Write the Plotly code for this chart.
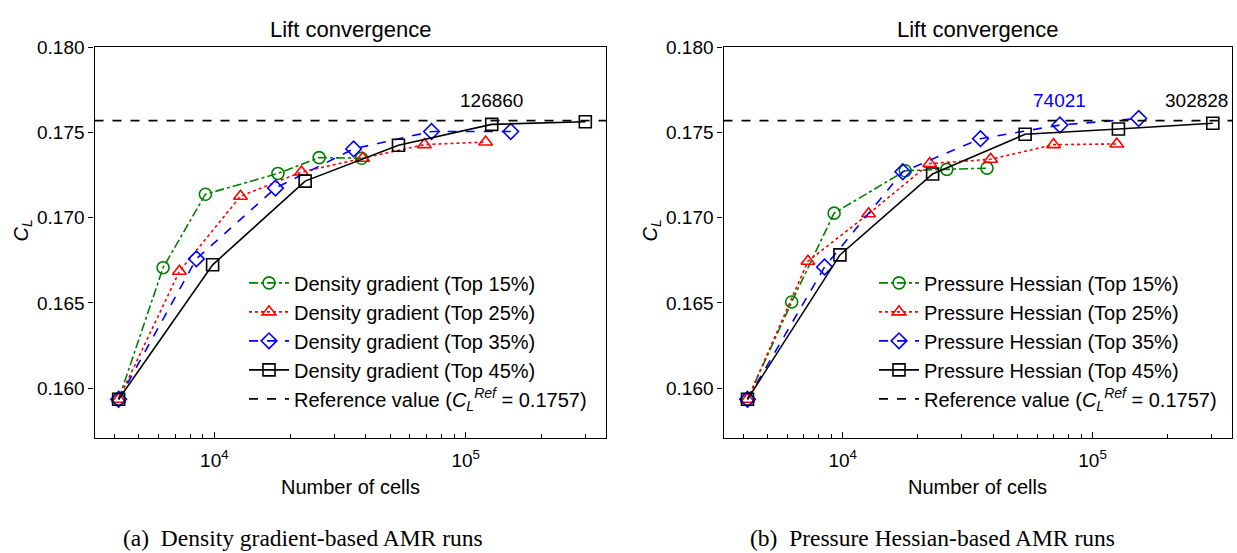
import plotly.graph_objects as go
import math

# ---------------- data ----------------
# (a) Density gradient-based AMR runs
DG15_CELLS = [4160, 6250, 9210, 17900, 26100, 38500]
DG15_CL = [0.15935, 0.16707, 0.17138, 0.17260, 0.17353, 0.17349]
DG25_CELLS = [4160, 7260, 12700, 22200, 38900, 68500, 120000]
DG25_CL = [0.15935, 0.16686, 0.17126, 0.17268, 0.17349, 0.17429, 0.17444]
DG35_CELLS = [4160, 8480, 17500, 35800, 73100, 151000]
DG35_CL = [0.15935, 0.16759, 0.17174, 0.17404, 0.17506, 0.17506]
DG45_CELLS = [4160, 9840, 22960, 54000, 126860, 299000]
DG45_CL = [0.15935, 0.16724, 0.17215, 0.17425, 0.17548, 0.17563]

# (b) Pressure Hessian-based AMR runs
PH15_CELLS = [4160, 6250, 9240, 17800, 26100, 37800]
PH15_CL = [0.15935, 0.16506, 0.17027, 0.17276, 0.17284, 0.17291]
PH25_CELLS = [4160, 7260, 12700, 22300, 39100, 69800, 125000]
PH25_CL = [0.15935, 0.16745, 0.17023, 0.17318, 0.17343, 0.17429, 0.17433]
PH35_CELLS = [4160, 8460, 17400, 35600, 74021, 153000]
PH35_CL = [0.15935, 0.16711, 0.17270, 0.17464, 0.17544, 0.17582]
PH45_CELLS = [4160, 9750, 22900, 53700, 126900, 302828]
PH45_CL = [0.15935, 0.16782, 0.17257, 0.17490, 0.17521, 0.17554]

CL_REF = 0.1757
SERIES_LABELS = ["Top 15%", "Top 25%", "Top 35%", "Top 45%"]

# annotated cell counts: (text, cells, colour)
LEFT_LABELS = [("126860", 126860, "black")]
RIGHT_LABELS = [("74021", 74021, "#0000FF"), ("302828", 302828, "black")]
LABEL_CL = 0.17688

Y_TICKS = [0.160, 0.165, 0.170, 0.175, 0.180]
X_MAJOR = [1e4, 1e5]
X_MAJOR_TEXT = ["10<sup>4</sup>", "10<sup>5</sup>"]
X_MINOR = [4000, 5000, 6000, 7000, 8000, 9000,
           20000, 30000, 40000, 50000, 60000, 70000, 80000, 90000,
           200000, 300000]
X_RANGE_LOG = [3.523, 5.558]
Y_RANGE = [0.15707, 0.180]

# ---------------- layout helpers ----------------
W, H = 1237, 553
FONT = "Liberation Sans, Arial, sans-serif"
SERIF = "Liberation Serif, Times New Roman, serif"

STYLES = [
    dict(color="#008000", dash="dashdot", symbol="circle-open"),
    dict(color="#FF0000", dash="dot", symbol="triangle-up-open"),
    dict(color="#0000FF", dash="dash", symbol="diamond-open"),
    dict(color="#000000", dash="solid", symbol="square-open"),
]

fig = go.Figure()

panels = [
    dict(prefix="Density gradient", xa="x", ya="y", legend="legend",
         data=[(DG15_CELLS, DG15_CL), (DG25_CELLS, DG25_CL),
               (DG35_CELLS, DG35_CL), (DG45_CELLS, DG45_CL)],
         labels=LEFT_LABELS),
    dict(prefix="Pressure Hessian", xa="x2", ya="y2", legend="legend2",
         data=[(PH15_CELLS, PH15_CL), (PH25_CELLS, PH25_CL),
               (PH35_CELLS, PH35_CL), (PH45_CELLS, PH45_CL)],
         labels=RIGHT_LABELS),
]

for p in panels:
    for i, ((cx, cy), st, lab) in enumerate(zip(p["data"], STYLES, SERIES_LABELS)):
        fig.add_trace(go.Scatter(
            x=cx, y=cy, mode="lines+markers",
            name=f"{p['prefix']} ({lab})",
            xaxis=p["xa"], yaxis=p["ya"], legend=p["legend"],
            legendrank=i + 1,
            line=dict(color=st["color"], dash=st["dash"], width=1.6),
            marker=dict(symbol=st["symbol"], size=12, color=st["color"],
                        line=dict(width=1.6, color=st["color"])),
        ))
    # reference value line across the whole axis
    fig.add_shape(type="line", xref=f"{p['xa']} domain", yref=p["ya"],
                  x0=0, x1=1, y0=CL_REF, y1=CL_REF,
                  line=dict(color="black", dash="dash", width=1.6),
                  showlegend=True, legend=p["legend"], legendrank=5,
                  name=f"Reference value (<i>C</i><sub><i>L</i></sub><sup><i>Ref</i></sup> = {CL_REF})")
    for txt, cells, col in p["labels"]:
        xs = -16 if cells > 2.5e5 else 0
        fig.add_annotation(x=math.log10(cells), y=LABEL_CL, xref=p["xa"], yref=p["ya"],
                           text=txt, showarrow=False, xshift=xs,
                           xanchor="center", yanchor="middle",
                           font=dict(family=FONT, size=19, color=col))

axis_common = dict(showline=True, linecolor="black", linewidth=1.3, mirror=True,
                   showgrid=False, zeroline=False,
                   tickfont=dict(family=FONT, size=19, color="black"))

xaxis_style = dict(type="log", range=X_RANGE_LOG, tickmode="array",
                   tickvals=X_MAJOR, ticktext=X_MAJOR_TEXT,
                   ticks="inside", ticklen=6, tickwidth=1.2, tickcolor="black",
                   ticklabelstandoff=5,
                   minor=dict(tickvals=X_MINOR, ticks="inside", ticklen=3.5,
                              tickwidth=1, tickcolor="black", showgrid=False),
                   **axis_common)
yaxis_style = dict(range=Y_RANGE, tickvals=Y_TICKS, tickformat=".3f",
                   ticks="outside", ticklen=5, tickwidth=1.2, tickcolor="black",
                   **axis_common)

LEFT_DOM = [94.5 / W, 606 / W]
RIGHT_DOM = [723.5 / W, 1232 / W]
Y_DOM = [1 - 436 / H, 1 - 38 / H]

legend_common = dict(font=dict(family=FONT, size=20, color="black"),
                     bgcolor="rgba(0,0,0,0)", borderwidth=0,
                     xanchor="left", yanchor="top", itemwidth=40,
                     tracegroupgap=0)

fig.update_layout(
    width=W, height=H,
    margin=dict(l=0, r=0, t=0, b=0),
    paper_bgcolor="white", plot_bgcolor="white",
    xaxis=dict(domain=LEFT_DOM, anchor="y", **xaxis_style),
    yaxis=dict(domain=Y_DOM, anchor="x", **yaxis_style),
    xaxis2=dict(domain=RIGHT_DOM, anchor="y2", **xaxis_style),
    yaxis2=dict(domain=Y_DOM, anchor="x2", **yaxis_style),
    legend=dict(x=244 / W, y=1 - 258 / H, **legend_common),
    legend2=dict(x=874 / W, y=1 - 258 / H, **legend_common),
    showlegend=True,
)

# titles, axis titles and captions
for dom in [LEFT_DOM, RIGHT_DOM]:
    cx = (dom[0] + dom[1]) / 2
    fig.add_annotation(x=cx, y=1 - 20 / H, xref="paper", yref="paper",
                       text="Lift convergence", showarrow=False,
                       xanchor="center", yanchor="middle",
                       font=dict(family=FONT, size=22, color="black"))
    fig.add_annotation(x=cx, y=1 - 486 / H, xref="paper", yref="paper",
                       text="Number of cells", showarrow=False,
                       xanchor="center", yanchor="middle",
                       font=dict(family=FONT, size=20, color="black"))
    fig.add_annotation(x=dom[0] - 72 / W, y=1 - 225 / H, xref="paper", yref="paper",
                       text="<i>C</i><sub><i>L</i></sub>", showarrow=False, textangle=-90,
                       xanchor="center", yanchor="middle",
                       font=dict(family=FONT, size=20, color="black"))

fig.add_annotation(x=303 / W, y=1 - 538 / H, xref="paper", yref="paper",
                   text="(a)  Density gradient-based AMR runs", showarrow=False,
                   xanchor="center", yanchor="middle",
                   font=dict(family=SERIF, size=23.5, color="black"))
fig.add_annotation(x=932 / W, y=1 - 538 / H, xref="paper", yref="paper",
                   text="(b)  Pressure Hessian-based AMR runs", showarrow=False,
                   xanchor="center", yanchor="middle",
                   font=dict(family=SERIF, size=23.5, color="black"))

fig.write_html("out.html")
